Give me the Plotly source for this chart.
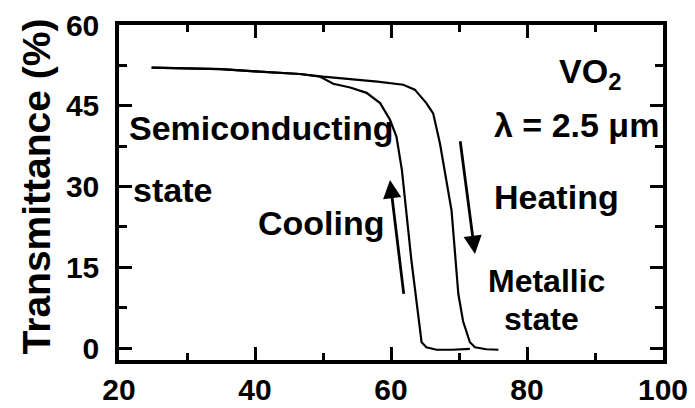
import plotly.graph_objects as go

# Transmittance of a VO2 film at 2.5 um versus temperature (heating and cooling branches)
heat_temp = [24.8, 30, 35, 40, 46.6, 50, 54, 58, 61.8, 63.5, 65.2, 66.2, 67.2, 67.9,
             68.9, 69.9, 70.6, 71.6, 72.35, 74, 75.8]
heat_trans = [52.1, 52.0, 51.8, 51.4, 50.9, 50.4, 50.0, 49.5, 48.9, 48.0, 45.5, 43.6, 38.0, 33.1,
              25.6, 10.1, 5.0, 1.1, 0.15, -0.2, -0.3]

cool_temp = [24.8, 30, 35, 40, 46.6, 49.6, 51.5, 54, 56.4, 58.4, 59.85, 60.8, 61.6,
             63.0, 64.5, 65.2, 66.7, 69, 71.6]
cool_trans = [52.1, 52.0, 51.8, 51.4, 50.9, 50.4, 49.1, 48.4, 47.4, 45.5, 42.4, 39.3, 33.1,
              16.3, 1.1, 0.15, -0.3, -0.3, -0.15]

x_ticks = [20, 40, 60, 80, 100]
y_ticks = [0, 15, 30, 45, 60]

FONT = "Liberation Sans, Arial, sans-serif"

fig = go.Figure()
fig.add_trace(go.Scatter(x=heat_temp, y=heat_trans, mode="lines",
                         line=dict(color="black", width=2.2), name="Heating"))
fig.add_trace(go.Scatter(x=cool_temp, y=cool_trans, mode="lines",
                         line=dict(color="black", width=2.2), name="Cooling"))

def label(text, x, y, size=34, xanchor="left"):
    fig.add_annotation(x=x, y=y, text=text, showarrow=False, xanchor=xanchor, yanchor="middle",
                       font=dict(family=FONT, size=size, color="black", weight="bold"))

label("Semiconducting", 21.2, 40.8)
label("state", 21.8, 29.4)
label("Cooling", 40.2, 23.2)
label("Heating", 74.8, 28.1)
label("Metallic", 82.9, 12.4, size=32, xanchor="center")
label("state", 82.1, 5.4, size=32, xanchor="center")
label("VO<sub>2</sub>", 84.4, 51.0)
label("λ = 2.5 μm", 74.9, 41.5)

# direction arrows (head at x/y, tail at ax/ay)
for head, tail in [((72.35, 17.5), (70.15, 38.7)), ((59.85, 31.2), (61.9, 9.8))]:
    fig.add_annotation(x=head[0], y=head[1], ax=tail[0], ay=tail[1],
                       xref="x", yref="y", axref="x", ayref="y", text="",
                       showarrow=True, arrowhead=2, arrowsize=1.3, arrowwidth=2.8,
                       arrowcolor="black", standoff=0, startstandoff=0)

# y-axis title
fig.add_annotation(x=-0.1526, y=0.518, xref="paper", yref="paper", text="Transmittance (%)",
                   textangle=-90, showarrow=False, xanchor="center", yanchor="middle",
                   font=dict(family=FONT, size=39, color="black", weight="bold"))

axis_common = dict(showline=True, linecolor="black", linewidth=3.5, mirror="ticks",
                   ticks="inside", tickcolor="black", tickwidth=2.5, ticklen=13,
                   showgrid=False, zeroline=False, automargin=False)

fig.update_xaxes(range=[20, 100], tickvals=x_ticks,
                 minor=dict(dtick=10, ticks="inside", ticklen=7, tickwidth=2.5, tickcolor="black"),
                 tickfont=dict(family=FONT, size=30, color="black", weight="bold"),
                 ticklabelstandoff=0, **axis_common)
fig.update_yaxes(range=[-2.2, 60], tickvals=y_ticks,
                 minor=dict(dtick=7.5, ticks="inside", ticklen=8, tickwidth=2.5, tickcolor="black"),
                 tickfont=dict(family=FONT, size=30, color="black", weight="bold"),
                 ticklabelstandoff=10, **axis_common)

fig.update_layout(width=695, height=408, showlegend=False,
                  margin=dict(l=119, r=32, t=25, b=48),
                  paper_bgcolor="white", plot_bgcolor="white")

fig.write_html("out.html")
